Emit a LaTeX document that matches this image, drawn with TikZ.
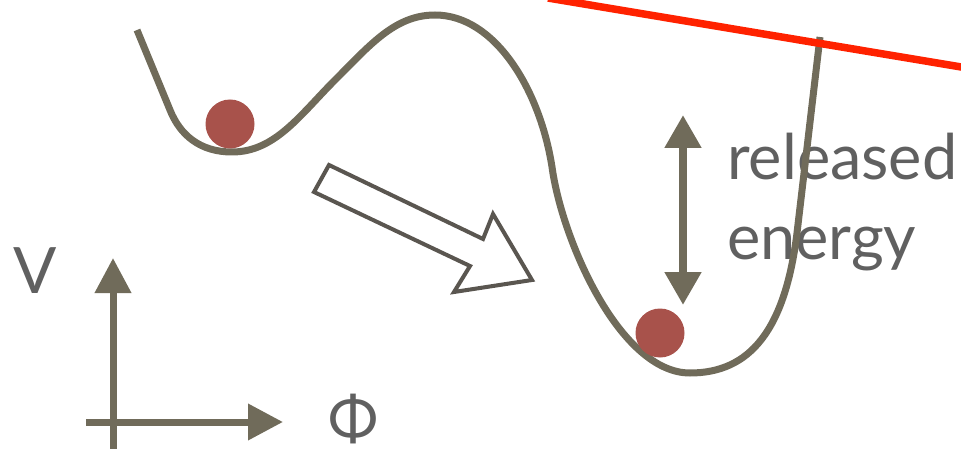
\documentclass[tikz,border=0pt]{standalone}
\usepackage{fontspec}
\setmainfont{Lato}
\usetikzlibrary{arrows.meta}
\definecolor{potgray}{RGB}{112,107,90}
\definecolor{ballred}{RGB}{168,82,75}
\definecolor{txtgray}{RGB}{96,96,96}
\definecolor{outlinegray}{RGB}{90,86,80}
\definecolor{cutred}{RGB}{255,34,0}

\begin{document}
\begin{tikzpicture}[
        x=1pt, y=-1pt,
        pot/.style={potgray, line width=7pt, line join=round},
        ball/.style={circle, fill=ballred, minimum size=49pt, inner sep=0pt},
        axis/.style={potgray, line width=7pt, -{Triangle[length=35pt, width=35pt]}},
        lbl/.style={text=txtgray, font=\fontsize{64}{64}\selectfont, inner sep=0pt}
    ]
    \useasboundingbox (0,0) rectangle (961,449);

    % Axes V and Phi
    \coordinate (vbot) at (113,449);
    \coordinate (vtop) at (113,258);
    \coordinate (hleft) at (86,422);
    \coordinate (hright) at (283,422);
    \draw[axis] (vbot) -- (vtop);
    \draw[axis] (hleft) -- (hright);
    \node[lbl] (vlbl) at (35,271) {V};
    \node[lbl, font=\fontsize{60}{60}\selectfont] (philbl) at (353,419) {Φ};

    % Hollow arrow between the two minima
    \draw[outlinegray, line width=4pt, fill=white, line join=miter]
        (329,165) -- (483,239) -- (493,214) -- (532,280) -- (454,292) -- (470,266) -- (314,192) -- cycle;

    % Label for the energy gap
    \node[lbl, font=\fontsize{63}{80}\selectfont, align=left, anchor=north west] (rel) at (727,133) {released\\energy};

    % Double arrow (energy gap)
    \coordinate (etop) at (683,115);
    \coordinate (ebot) at (683,305);
    \draw[potgray, line width=8pt, {Triangle[length=33pt, width=35pt]}-{Triangle[length=33pt, width=35pt]}] (etop) -- (ebot);

    % Potential V(Phi): false vacuum left, true vacuum right
    \draw[pot] (137,30) -- (170,110)
        .. controls (180,135) and (200,152) .. (232,152)
        .. controls (275,152) and (300,115) .. (335,80)
        .. controls (370,45) and (395,15) .. (435,15)
        .. controls (495,15) and (540,90) .. (552,167)
        .. controls (562,240) and (620,373) .. (690,373)
        .. controls (750,373) and (785,330) .. (797,233)
        -- (820,37);

    % Balls in the two minima
    \node[ball] (falsevac) at (230,124) {};
    \node[ball] (truevac) at (660,333) {};

    % Red line on top
    \coordinate (cutA) at (548,-2);
    \coordinate (cutB) at (975,69.3);
    \draw[cutred, line width=7.5pt] (cutA) -- (cutB);

\end{tikzpicture}
\end{document}
